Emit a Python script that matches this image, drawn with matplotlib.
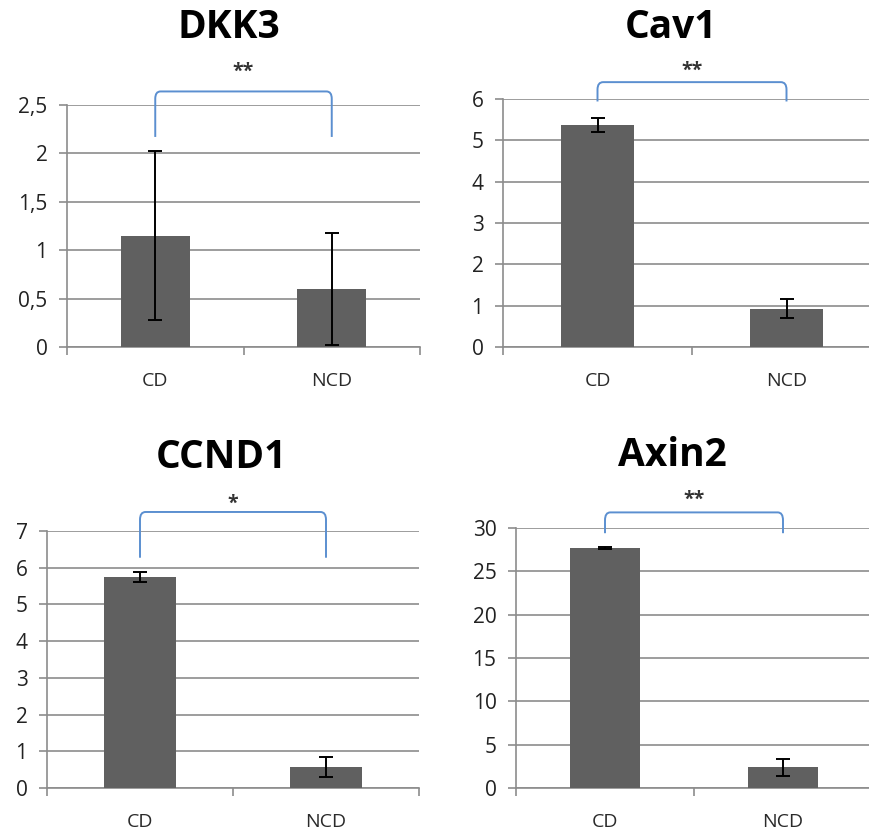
import matplotlib.pyplot as plt
from matplotlib.path import Path
from matplotlib.patches import PathPatch
from matplotlib.transforms import blended_transform_factory

plt.rcParams['font.family'] = ['Open Sans', 'DejaVu Sans']

# Data
groups = ['CD', 'NCD']
genes = ['DKK3', 'Cav1', 'CCND1', 'Axin2']
dkk3_mean = [1.15, 0.60]
dkk3_err = [0.87, 0.58]
cav1_mean = [5.38, 0.93]
cav1_err = [0.17, 0.22]
ccnd1_mean = [5.75, 0.57]
ccnd1_err = [0.14, 0.27]
axin2_mean = [27.7, 2.4]
axin2_err = [0.12, 1.0]
signif = ['**', '**', '*', '**']

dkk3_ticks = [0, 0.5, 1, 1.5, 2, 2.5]
dkk3_labels = ['0', '0,5', '1', '1,5', '2', '2,5']
cav1_ticks = [0, 1, 2, 3, 4, 5, 6]
ccnd1_ticks = [0, 1, 2, 3, 4, 5, 6, 7]
axin2_ticks = [0, 5, 10, 15, 20, 25, 30]

means = [dkk3_mean, cav1_mean, ccnd1_mean, axin2_mean]
errs = [dkk3_err, cav1_err, ccnd1_err, axin2_err]
ticks = [dkk3_ticks, cav1_ticks, ccnd1_ticks, axin2_ticks]
tick_labels = [dkk3_labels, [str(t) for t in cav1_ticks],
               [str(t) for t in ccnd1_ticks], [str(t) for t in axin2_ticks]]

W, H = 869, 835
fig = plt.figure(figsize=(W / 100, H / 100), dpi=100)

# axes boxes in pixels: left, right, top, bottom
boxes = [(67, 420, 105, 347), (503, 881, 99, 347),
         (47, 419, 531, 788), (516, 872, 528, 788)]
# title centres in pixels
title_pos = [(229, 27), (671, 27), (221, 458), (672, 456)]
# bracket (bottom, top) and star height, in axes fraction
brackets = [(0.868, 1.056, 1.135), (0.99, 1.068, 1.115),
            (0.896, 1.074, 1.105), (0.98, 1.06, 1.11)]

grid_color = '#8c8c8c'
bar_color = '#606060'
bracket_color = '#5b8fd0'

for i in range(4):
    l, r, t, b = boxes[i]
    ax = fig.add_axes([l / W, 1 - b / H, (r - l) / W, (b - t) / H])
    x = range(len(groups))
    ax.bar(x, means[i], width=0.39, color=bar_color, zorder=3)
    ax.errorbar(x, means[i], yerr=errs[i], fmt='none', ecolor='black',
                elinewidth=1.4, capsize=5, capthick=1.4, zorder=4)

    ax.set_xlim(-0.5, 1.5)
    ax.set_ylim(ticks[i][0], ticks[i][-1])
    ax.set_yticks(ticks[i])
    ax.set_yticklabels(tick_labels[i])
    ax.yaxis.grid(True, color=grid_color, linewidth=1.2, zorder=0)
    ax.set_axisbelow(True)

    # category boundaries as major ticks, names as minor ticks
    ax.set_xticks([-0.5, 0.5, 1.5])
    ax.set_xticklabels([])
    ax.set_xticks([0, 1], minor=True)
    ax.set_xticklabels(groups, minor=True)
    ax.tick_params(axis='x', which='major', length=6, color=grid_color,
                   width=1.2)
    ax.tick_params(axis='x', which='minor', length=0, pad=18,
                   labelsize=14, labelcolor='#2a2a2a')
    ax.tick_params(axis='y', length=6, color=grid_color, width=1.2, pad=8,
                   labelsize=15, labelcolor='#222222')

    for side in ['top', 'right']:
        ax.spines[side].set_visible(False)
    for side in ['left', 'bottom']:
        ax.spines[side].set_color(grid_color)
        ax.spines[side].set_linewidth(1.2)

    # significance bracket with rounded corners
    yb, yt, ys = brackets[i]
    trans = blended_transform_factory(ax.transData, ax.transAxes)
    x0, x1 = 0, 1
    dx, dy = 0.03, 0.03
    verts = [(x0, yb), (x0, yt - dy), (x0, yt), (x0 + dx, yt),
             (x1 - dx, yt), (x1, yt), (x1, yt - dy), (x1, yb)]
    codes = [Path.MOVETO, Path.LINETO, Path.CURVE3, Path.CURVE3,
             Path.LINETO, Path.CURVE3, Path.CURVE3, Path.LINETO]
    ax.add_patch(PathPatch(Path(verts, codes), transform=trans,
                           facecolor='none', edgecolor=bracket_color,
                           linewidth=1.4, clip_on=False))
    ax.text(0.5, ys, signif[i], transform=trans, ha='center', va='center',
            fontsize=14, fontweight='bold', color='#333333')

    tx, ty = title_pos[i]
    fig.text(tx / W, 1 - ty / H, genes[i], ha='center', va='center',
             fontsize=28, fontweight='bold')

fig.savefig('out.png', dpi=100)
